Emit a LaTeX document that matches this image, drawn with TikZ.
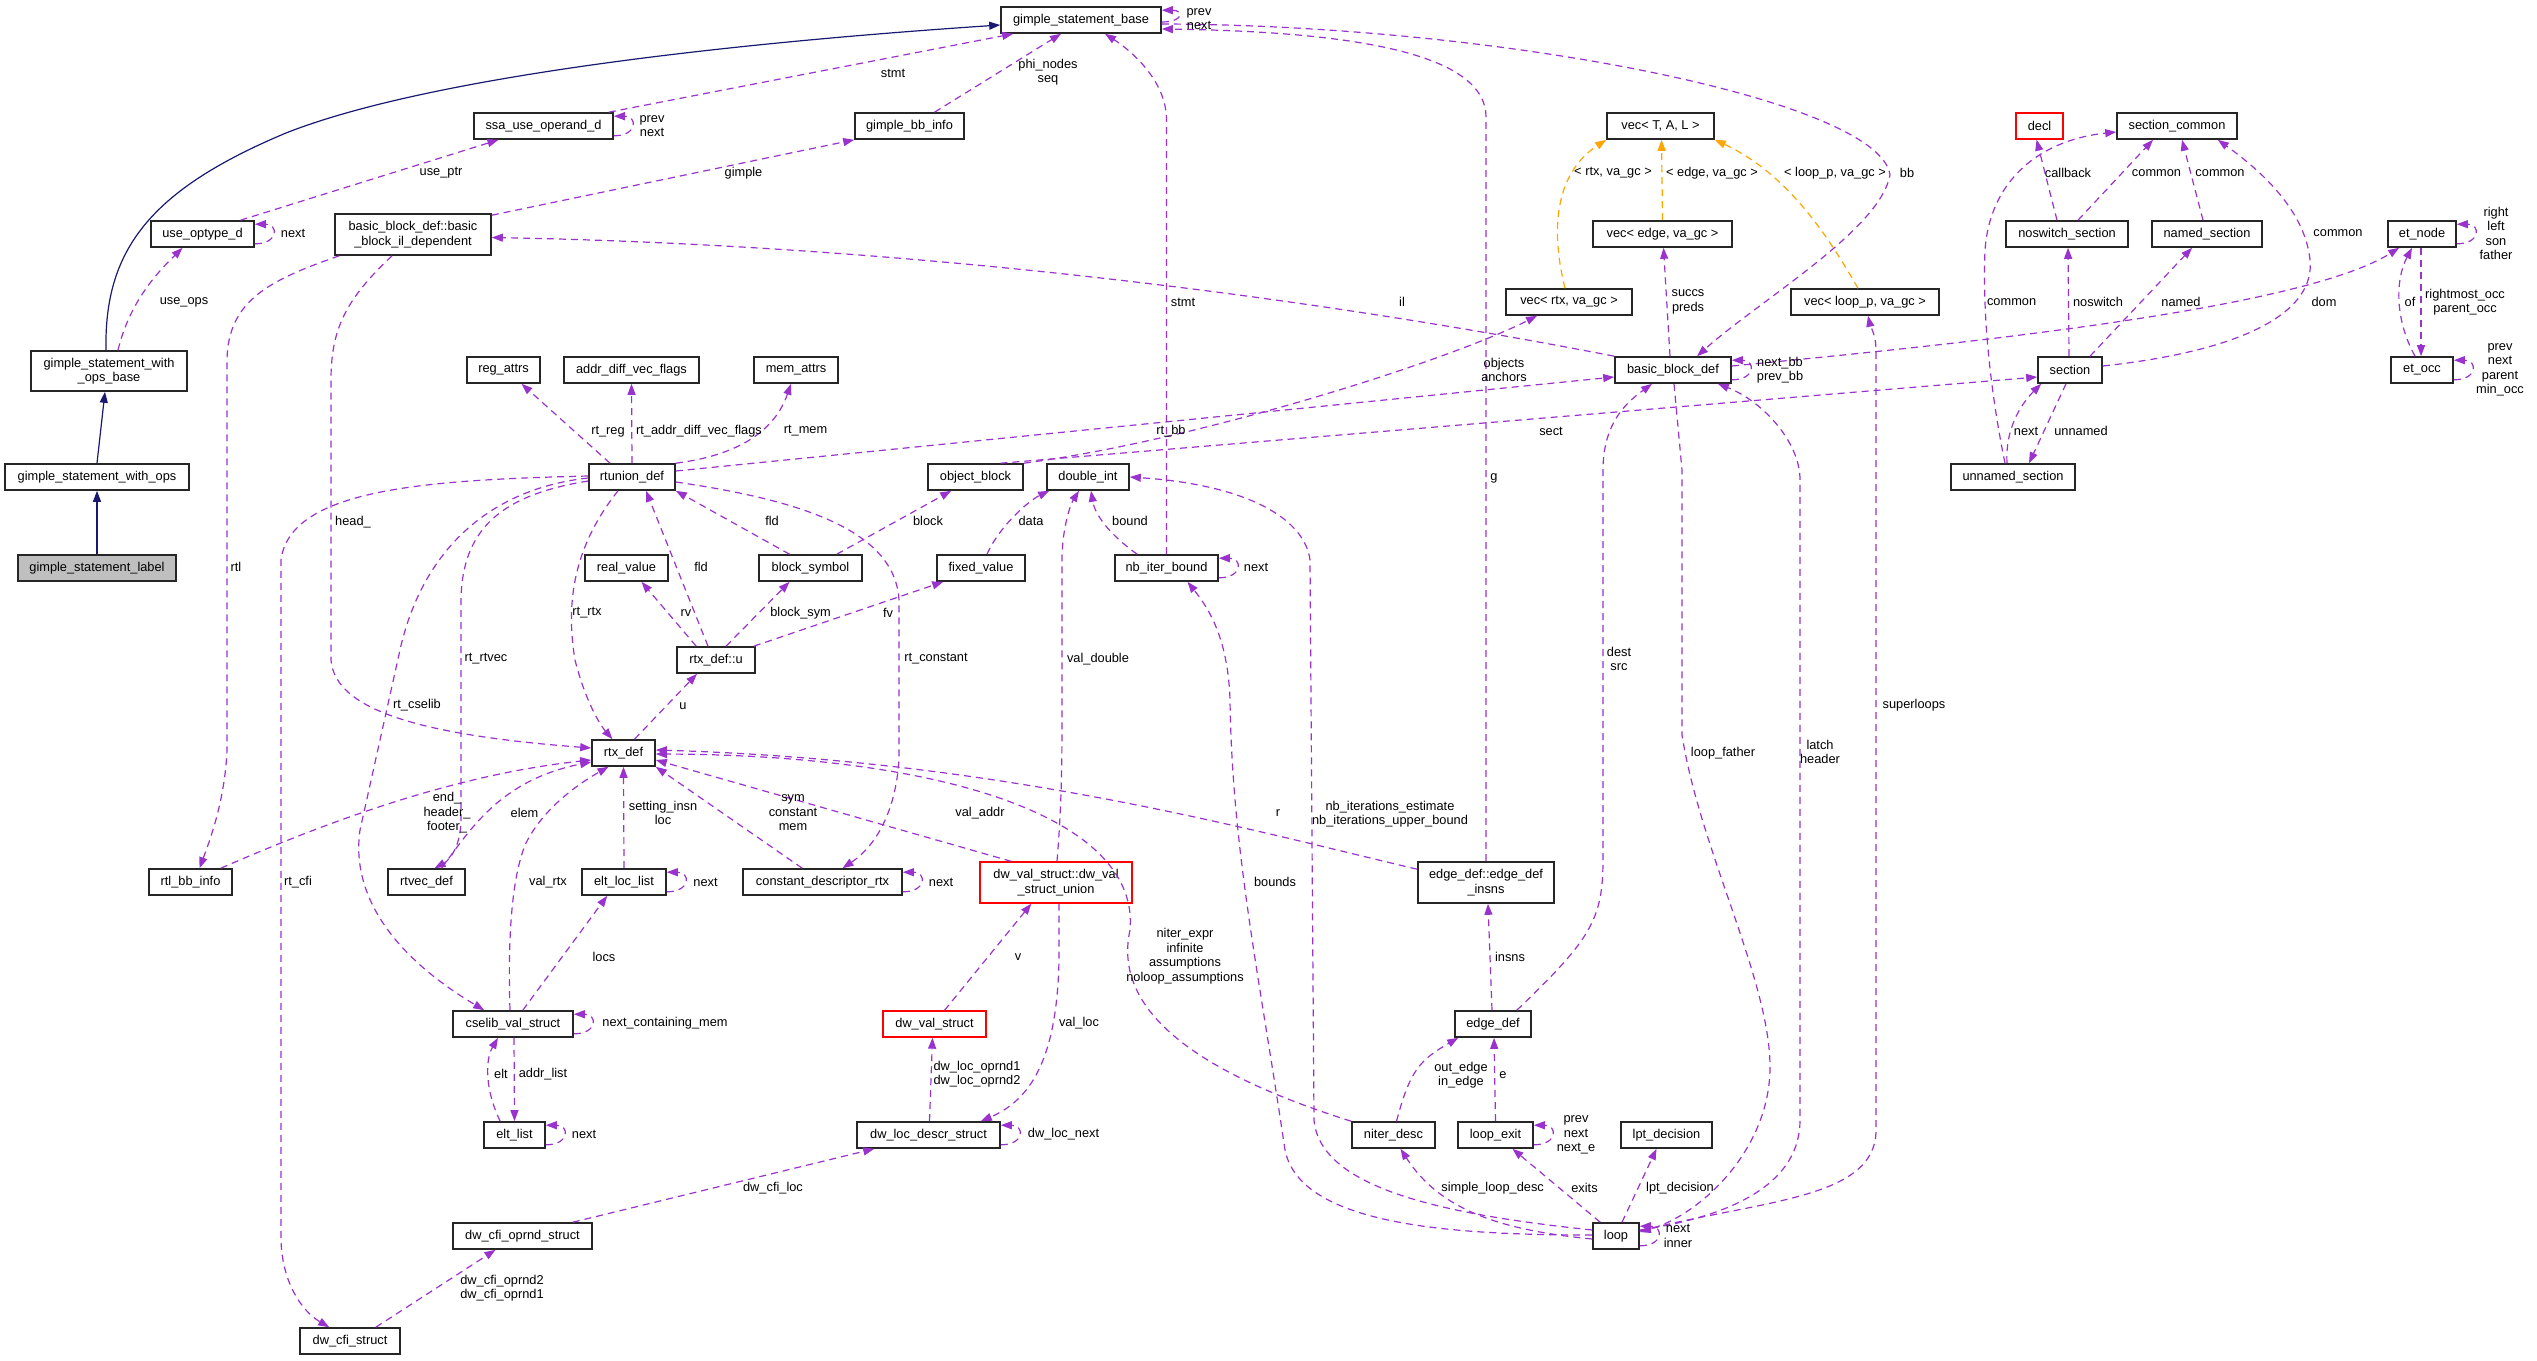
\documentclass[tikz,border=0pt]{standalone}
\usepackage{fontspec}
\setmainfont{Liberation Sans}
\usetikzlibrary{calc,arrows.meta}
\definecolor{purp}{HTML}{9A32CD}
\definecolor{orng}{HTML}{FFA500}
\definecolor{navyb}{HTML}{191970}
\begin{document}
\begin{tikzpicture}[x=1pt,y=-1pt,
  font=\fontsize{12.8}{14.5}\selectfont,
  box/.style={draw=black!85, line width=1.6pt, fill=white, rectangle, inner sep=0pt, minimum height=26pt, align=center},
  box2/.style={box, minimum height=41pt},
  lbl/.style={inner sep=0pt, align=center},
  pe/.style={draw=purp, line width=1.2pt, dash pattern=on 7pt off 5pt, -{Triangle[length=11pt,width=8pt]}},
  oe/.style={draw=orng, line width=1.2pt, dash pattern=on 7pt off 5pt, -{Triangle[length=11pt,width=8pt]}},
  ne/.style={draw=navyb, line width=1.2pt, -{Triangle[length=11pt,width=8pt]}}]
\useasboundingbox (0,0) rectangle (2537,1360);
% ---------------- nodes
\node[box, minimum width=160pt] (gsb) at (1081,20) {gimple\_statement\_base};
\node[box, minimum width=139pt] (ssa) at (543.5,126) {ssa\_use\_operand\_d};
\node[box, minimum width=109pt] (gbi) at (909.5,126) {gimple\_bb\_info};
\node[box, minimum width=107pt] (vecT) at (1660.5,126) {vec< T, A, L >};
\node[box, draw=red, line width=1.3pt, minimum width=47pt] (decl) at (2039.5,126) {decl};
\node[box, minimum width=120pt] (sc) at (2177,126) {section\_common};
\node[box, minimum width=103pt] (uod) at (202.5,234) {use\_optype\_d};
\node[box2, minimum width=156pt] (bbil) at (413,234.5) {basic\_block\_def::basic\\\_block\_il\_dependent};
\node[box, minimum width=139pt] (vece) at (1662.5,234) {vec< edge, va\_gc >};
\node[box, minimum width=122pt] (nss) at (2067,234) {noswitch\_section};
\node[box, minimum width=110pt] (nms) at (2207,234) {named\_section};
\node[box, minimum width=68pt] (etn) at (2422,234) {et\_node};
\node[box, minimum width=126pt] (vecr) at (1569,302) {vec< rtx, va\_gc >};
\node[box, minimum width=148pt] (vecl) at (1865,302) {vec< loop\_p, va\_gc >};
\node[box2, minimum width=156pt, minimum height=40pt] (gswob) at (109,371) {gimple\_statement\_with\\\_ops\_base};
\node[box, minimum width=73pt] (rega) at (503.5,370) {reg\_attrs};
\node[box, minimum width=135pt] (adv) at (631.5,370) {addr\_diff\_vec\_flags};
\node[box, minimum width=84pt] (mema) at (796,370) {mem\_attrs};
\node[box, minimum width=116pt] (bbd) at (1673,370) {basic\_block\_def};
\node[box, minimum width=64pt] (sec) at (2070,370) {section};
\node[box, minimum width=62pt] (eto) at (2422,370) {et\_occ};
\node[box, minimum width=184pt] (gswo) at (97,477) {gimple\_statement\_with\_ops};
\node[box, minimum width=86pt] (rtu) at (632,477) {rtunion\_def};
\node[box, minimum width=95pt] (ob) at (975.5,477) {object\_block};
\node[box, minimum width=82pt] (di) at (1088,477) {double\_int};
\node[box, minimum width=124pt] (uns) at (2013,477) {unnamed\_section};
\node[box, fill=gray!50, minimum width=158pt] (gsl) at (97,568) {gimple\_statement\_label};
\node[box, minimum width=83pt] (rv) at (626.5,568) {real\_value};
\node[box, minimum width=103pt] (bs) at (810.5,568) {block\_symbol};
\node[box, minimum width=88pt] (fv) at (981,568) {fixed\_value};
\node[box, minimum width=103pt] (nib) at (1166.5,568) {nb\_iter\_bound};
\node[box, minimum width=78pt] (rdu) at (716,660) {rtx\_def::u};
\node[box, minimum width=63pt] (rtx) at (623.5,753) {rtx\_def};
\node[box, minimum width=83pt] (rbi) at (190.5,882) {rtl\_bb\_info};
\node[box, minimum width=77pt] (rvd) at (426.5,882) {rtvec\_def};
\node[box, minimum width=84pt] (ell) at (624,882) {elt\_loc\_list};
\node[box, minimum width=159pt] (cdr) at (822.5,882) {constant\_descriptor\_rtx};
\node[box2, draw=red, line width=1.3pt, minimum width=152pt] (dvu) at (1056,882.5) {dw\_val\_struct::dw\_val\\\_struct\_union};
\node[box2, minimum width=136pt] (edi) at (1486,882.5) {edge\_def::edge\_def\\\_insns};
\node[box, minimum width=120pt] (cvs) at (513,1024) {cselib\_val\_struct};
\node[box, draw=red, line width=1.3pt, minimum width=103pt] (dvs) at (934.5,1024) {dw\_val\_struct};
\node[box, minimum width=76pt] (ed) at (1493,1024) {edge\_def};
\node[box, minimum width=61pt] (el) at (514.5,1135) {elt\_list};
\node[box, minimum width=143pt] (dlds) at (928.5,1135) {dw\_loc\_descr\_struct};
\node[box, minimum width=83pt] (nd) at (1393.5,1135) {niter\_desc};
\node[box, minimum width=75pt] (le) at (1495.5,1135) {loop\_exit};
\node[box, minimum width=91pt] (lpt) at (1666.5,1135) {lpt\_decision};
\node[box, minimum width=139pt] (dcos) at (522.5,1236) {dw\_cfi\_oprnd\_struct};
\node[box, minimum width=46pt] (loop) at (1616,1236) {loop};
\node[box, minimum width=100pt] (dcs) at (350,1341) {dw\_cfi\_struct};
% ---------------- inheritance
\draw[ne] ($(gswob.north)+(-3,0)$) .. controls (104,250) and (150,190) .. (286,133) .. controls (420,80) and (700,45) .. ($(gsb.west)+(0,5)$);
\draw[ne] (gswo.north) -- ($(gswob.south)+(-4,0)$);
\draw[ne] (gsl.north) -- (gswo.south);
% ---------------- top area
\draw[pe] ($(ssa.north east)+(-5,0)$) -- ($(gsb.south west)+(13,0)$);
\draw[pe] ([yshift=4pt]ssa.south east) .. controls +(24,0) and +(24,0) .. ([yshift=-4pt]ssa.north east);
\draw[pe] ($(uod.north)+(38,0)$) -- ($(ssa.south)+(-45,0)$);
\draw[pe] ([yshift=4pt]uod.south east) .. controls +(24,0) and +(24,0) .. ([yshift=-4pt]uod.north east);
\draw[pe] ($(gswob.north)+(9,0)$) .. controls (130,300) and (160,270) .. ($(uod.south)+(-20,0)$);
\draw[pe] ($(bbil.north east)+(0,2)$) -- (gbi.south west);
\draw[pe] ($(gbi.north)+(25,0)$) -- ($(gsb.south)+(-20,0)$);
\draw[pe] ($(gsb.east)+(0,2)$) .. controls +(22,0) and +(22,0) .. ($(gsb.north east)+(0,4)$);
\draw[pe] ($(gsb.east)+(0,4)$) .. controls (1500,25) and (1880,100) .. (1890,175) .. controls (1880,230) and (1760,300) .. ($(bbd.north)+(24,0)$);
\draw[pe] (edi.north) -- (1486,117) .. controls (1486,60) and (1380,32) .. ($(gsb.east)+(0,9)$);
\draw[pe] (nib.north) -- (1166.5,120) .. controls (1166.5,80) and (1130,50) .. ($(gsb.south)+(24,0)$);
% ---------------- basic block / vec
\draw[pe] (bbd.north west) .. controls (1300,295) and (900,245) .. ($(bbil.east)+(0,3)$);
\draw[pe] ($(bbd.north)+(-3,0)$) -- ($(vece.south)+(1,0)$);
\draw[oe] (vece.north) -- ($(vecT.south)+(1,0)$);
\draw[oe] ($(vecr.north)+(-4,0)$) .. controls (1548,220) and (1560,170) .. (vecT.south west);
\draw[oe] ($(vecl.north)+(-7,0)$) .. controls (1830,240) and (1790,175) .. (vecT.south east);
\draw[pe] (ob.north east) .. controls (1200,440) and (1450,360) .. ($(vecr.south)+(-32,0)$);
\draw[pe] ($(ob.north)+(25,0)$) -- ($(sec.west)+(0,7)$);
\draw[pe] ($(rtu.east)+(0,-6)$) -- ($(bbd.west)+(0,7)$);
\draw[pe] ($(bbd.east)+(0,-4)$) .. controls (1950,345) and (2300,310) .. ($(etn.south west)+(12,0)$);
\draw[pe] ([yshift=4pt]bbd.south east) .. controls +(24,0) and +(24,0) .. ([yshift=-4pt]bbd.north east);
\draw[pe] ($(ed.north east)+(-15,0)$) .. controls (1590,940) and (1603,920) .. (1603,860) -- (1603,470) .. controls (1603,420) and (1630,400) .. ($(bbd.south)+(-21,0)$);
\draw[pe] ($(bbd.south)+(1,0)$) -- (1682,470) -- (1682,735) .. controls (1700,850) and (1770,980) .. (1770,1067) .. controls (1770,1150) and (1700,1215) .. ($(loop.east)+(0,-4)$);
\draw[pe] ($(loop.east)+(0,-6)$) .. controls (1740,1215) and (1800,1180) .. (1800,1120) -- (1800,480) .. controls (1800,440) and (1760,400) .. ($(bbd.south east)+(-14,0)$);
\draw[pe] ($(loop.east)+(0,-5)$) .. controls (1760,1200) and (1876,1200) .. (1876,1130) -- (1876,350) .. controls (1876,335) and (1870,325) .. ($(vecl.south)+(3,0)$);
% ---------------- loop area
\draw[pe] ($(loop.west)+(0,-1)$) .. controls (1450,1235) and (1300,1225) .. (1285,1150) .. controls (1260,980) and (1232,850) .. (1230,700) .. controls (1228,640) and (1210,610) .. ($(nib.south)+(21,0)$);
\draw[pe] ($(loop.west)+(0,-6)$) .. controls (1450,1215) and (1320,1190) .. (1314,1120) -- (1310,560) .. controls (1305,520) and (1250,485) .. (di.east);
\draw[pe] ($(loop.west)+(0,3)$) .. controls (1500,1230) and (1440,1210) .. ($(nd.south)+(7,0)$);
\draw[pe] ($(loop.north west)+(8,0)$) -- ($(le.south)+(17,0)$);
\draw[pe] ($(loop.north)+(6,0)$) -- ($(lpt.south)+(-10,0)$);
\draw[pe] ([yshift=4pt]loop.south east) .. controls +(24,0) and +(24,0) .. ([yshift=-4pt]loop.north east);
\draw[pe] (le.north) -- ($(ed.south)+(1,0)$);
\draw[pe] ([yshift=4pt]le.south east) .. controls +(24,0) and +(24,0) .. ([yshift=-4pt]le.north east);
\draw[pe] ($(ed.north)+(-1,0)$) -- ($(edi.south)+(2,0)$);
\draw[pe] ($(nd.north)+(3,0)$) .. controls (1410,1070) and (1420,1060) .. ($(ed.south west)+(4,0)$);
\draw[pe] (nd.north west) .. controls (1220,1080) and (1110,1020) .. (1130,930) .. controls (1140,820) and (950,755) .. ($(rtx.east)+(0,1)$);
\draw[pe] ($(edi.north west)+(0,8)$) .. controls (1250,830) and (1000,760) .. ($(rtx.east)+(0,-3)$);
% ---------------- dwarf
\draw[pe] ($(dvu.north west)+(32,0)$) -- ($(rtx.east)+(0,7)$);
\draw[pe] ($(dvu.north)+(1,0)$) .. controls (1062,800) and (1062,760) .. (1062,700) -- (1062,560) .. controls (1062,530) and (1070,505) .. ($(di.south)+(-9,0)$);
\draw[pe] ($(dvu.south)+(3,0)$) -- (1059,960) .. controls (1057,1060) and (1030,1100) .. ($(dlds.north east)+(-20,0)$);
\draw[pe] ($(dvs.north)+(10,0)$) -- ($(dvu.south west)+(52,0)$);
\draw[pe] ($(dlds.north)+(1,0)$) -- ($(dvs.south)+(-2,0)$);
\draw[pe] ([yshift=4pt]dlds.south east) .. controls +(24,0) and +(24,0) .. ([yshift=-4pt]dlds.north east);
\draw[pe] ($(dcos.north east)+(-20,0)$) -- ($(dlds.south west)+(18,0)$);
\draw[pe] ($(dcs.north east)+(-25,0)$) -- ($(dcos.south)+(-27,0)$);
% ---------------- rtunion
\draw[pe] ($(rtu.west)+(0,-1)$) .. controls (420,480) and (290,490) .. (281,560) -- (281,1240) .. controls (282,1280) and (300,1310) .. ($(dcs.north west)+(30,0)$);
\draw[pe] ($(rtu.west)+(0,1)$) .. controls (480,490) and (420,560) .. (400,650) -- (360,830) .. controls (350,900) and (400,960) .. ($(cvs.north west)+(32,0)$);
\draw[pe] ($(rtu.west)+(0,4)$) .. controls (500,495) and (462,530) .. (461,600) -- (461,820) .. controls (461,845) and (450,860) .. ($(rvd.north)+(8,0)$);
\draw[pe] ($(rtu.south)+(-14,0)$) .. controls (575,545) and (565,600) .. (575,660) .. controls (585,700) and (600,725) .. ($(rtx.north)+(-11,0)$);
\draw[pe] ($(rtu.north)+(-22,0)$) -- ($(rega.south)+(18,0)$);
\draw[pe] (rtu.north) -- (adv.south);
\draw[pe] (rtu.north east) .. controls (740,455) and (775,430) .. ($(mema.south)+(-5,0)$);
\draw[pe] ($(rtu.east)+(0,5)$) .. controls (800,500) and (895,530) .. (899,600) -- (899,760) .. controls (895,820) and (870,850) .. ($(cdr.north)+(20,0)$);
\draw[pe] ($(rdu.north)+(-8,0)$) -- ($(rtu.south)+(14,0)$);
\draw[pe] ($(bs.north)+(-21,0)$) -- (rtu.south east);
\draw[pe] ($(bs.north east)+(-26,0)$) -- ($(ob.south west)+(24,0)$);
\draw[pe] ($(rdu.north west)+(20,0)$) -- ($(rv.south)+(15,0)$);
\draw[pe] ($(rdu.north)+(10,0)$) -- ($(bs.south)+(-21,0)$);
\draw[pe] ($(rdu.north east)+(-2,0)$) -- ($(fv.south west)+(7,0)$);
\draw[pe] ($(fv.north)+(6,0)$) .. controls (1000,525) and (1030,500) .. ($(di.south west)+(3,0)$);
\draw[pe] ($(nib.north west)+(23,0)$) .. controls (1110,535) and (1095,515) .. ($(di.south)+(3,0)$);
\draw[pe] ([yshift=4pt]nib.south east) .. controls +(24,0) and +(24,0) .. ([yshift=-4pt]nib.north east);
\draw[pe] ($(rtx.north)+(11,0)$) -- ($(rdu.south)+(-19,0)$);
% ---------------- rtx_def incoming
\draw[pe] ($(bbil.south)+(-21,0)$) .. controls (345,300) and (331,330) .. (331,380) -- (331,660) .. controls (335,710) and (420,735) .. ($(rtx.west)+(0,-5)$);
\draw[pe] ($(bbil.south west)+(5,0)$) .. controls (270,280) and (228,300) .. (227,360) -- (227,750) .. controls (225,800) and (210,840) .. ($(rbi.north)+(9,0)$);
\draw[pe] ($(rbi.north east)+(-12,0)$) .. controls (320,825) and (450,775) .. ($(rtx.west)+(0,7)$);
\draw[pe] ($(rvd.north)+(15,0)$) .. controls (470,830) and (500,780) .. ($(rtx.west)+(0,9)$);
\draw[pe] ($(cvs.north)+(-3,0)$) .. controls (508,950) and (510,880) .. (526,843) .. controls (545,805) and (585,780) .. ($(rtx.south)+(-15,0)$);
\draw[pe] (ell.north) -- (rtx.south);
\draw[pe] ([yshift=4pt]ell.south east) .. controls +(24,0) and +(24,0) .. ([yshift=-4pt]ell.north east);
\draw[pe] ($(cvs.north east)+(-51,0)$) -- ($(ell.south west)+(26,0)$);
\draw[pe] ([yshift=4pt]cvs.south east) .. controls +(24,0) and +(24,0) .. ([yshift=-4pt]cvs.north east);
\draw[pe] ($(cvs.south)+(1,0)$) -- (el.north);
\draw[pe] ($(el.north west)+(17,0)$) .. controls (485,1090) and (485,1060) .. ($(cvs.south)+(-15,0)$);
\draw[pe] ([yshift=4pt]el.south east) .. controls +(24,0) and +(24,0) .. ([yshift=-4pt]el.north east);
\draw[pe] ($(cdr.north west)+(60,0)$) -- (rtx.south east);
\draw[pe] ([yshift=4pt]cdr.south east) .. controls +(24,0) and +(24,0) .. ([yshift=-4pt]cdr.north east);
% ---------------- sections
\draw[pe] ($(nss.north)+(-10,0)$) -- ($(decl.south)+(-3,0)$);
\draw[pe] ($(nss.north)+(11,0)$) -- ($(sc.south)+(-24,0)$);
\draw[pe] ($(nms.north)+(-4,0)$) -- ($(sc.south)+(5,0)$);
\draw[pe] ($(uns.north)+(-8,0)$) .. controls (1992,400) and (1982,320) .. (1985,250) .. controls (1990,180) and (2040,140) .. ($(sc.west)+(0,6)$);
\draw[pe] ($(sec.east)+(0,-4)$) .. controls (2250,350) and (2315,310) .. (2310,260) .. controls (2305,210) and (2260,170) .. ($(sc.south east)+(-20,0)$);
\draw[pe] ($(sec.north)+(-1,0)$) -- ($(nss.south)+(1,0)$);
\draw[pe] ($(sec.north)+(20,0)$) -- ($(nms.south)+(-15,0)$);
\draw[pe] ($(sec.south)+(-4,0)$) -- ($(uns.north)+(16,0)$);
\draw[pe] ($(uns.north)+(-6,0)$) .. controls (2005,430) and (2020,405) .. ($(sec.south west)+(4,0)$);
\draw[pe] ($(eto.north)+(-7,0)$) .. controls (2395,320) and (2395,280) .. ($(etn.south)+(-10,0)$);
\draw[pe] ($(etn.south)+(-1,0)$) -- ($(eto.north)+(-1,0)$);
\draw[pe] ([yshift=4pt]etn.south east) .. controls +(24,0) and +(24,0) .. ([yshift=-4pt]etn.north east);
\draw[pe] ([yshift=4pt]eto.south east) .. controls +(24,0) and +(24,0) .. ([yshift=-4pt]eto.north east);
% ---------------- labels
\node[lbl] (l1) at (893,73) {stmt};
\node[lbl] (l2) at (652,126) {prev\\next};
\node[lbl] (l3) at (441,173) {use\_ptr};
\node[lbl] (l4) at (293,233) {next};
\node[lbl] (l5) at (184,302) {use\_ops};
\node[lbl] (l6) at (743.5,173) {gimple};
\node[lbl] (l7) at (1048,72) {phi\_nodes\\seq};
\node[lbl] (l8) at (1199,19) {prev\\next};
\node[lbl] (l9) at (1183,302) {stmt};
\node[lbl] (l10) at (1402,302) {il};
\node[lbl] (l11) at (1613,173) {< rtx, va\_gc >};
\node[lbl] (l12) at (1712,173) {< edge, va\_gc >};
\node[lbl] (l13) at (1835,173) {< loop\_p, va\_gc >};
\node[lbl] (l14) at (1907,173) {bb};
\node[lbl] (l15) at (1688,302) {succs\\preds};
\node[lbl] (l16) at (1504,370) {objects\\anchors};
\node[lbl] (l17) at (1780,370) {next\_bb\\prev\_bb};
\node[lbl] (l18) at (1551,431) {sect};
\node[lbl] (l19) at (2068,173) {callback};
\node[lbl] (l20) at (2156.5,173) {common};
\node[lbl] (l21) at (2220,173) {common};
\node[lbl] (l22) at (2338,233) {common};
\node[lbl] (l23) at (2496,233.5) {right\\left\\son\\father};
\node[lbl] (l24) at (2011.6,302) {common};
\node[lbl] (l25) at (2098,302) {noswitch};
\node[lbl] (l26) at (2181,302) {named};
\node[lbl] (l27) at (2324,302) {dom};
\node[lbl] (l28) at (2410,302) {of};
\node[lbl] (l29) at (2465,302) {rightmost\_occ\\parent\_occ};
\node[lbl] (l30) at (2500,370) {prev\\next\\parent\\min\_occ};
\node[lbl] (l31) at (2026,431) {next};
\node[lbl] (l32) at (2081,431) {unnamed};
\node[lbl] (l33) at (608,432) {rt\_reg};
\node[lbl] (l34) at (699,431) {rt\_addr\_diff\_vec\_flags};
\node[lbl] (l35) at (805.5,431) {rt\_mem};
\node[lbl] (l36) at (1171,431) {rt\_bb};
\node[lbl] (l37) at (353,522) {head\_};
\node[lbl] (l38) at (236,567) {rtl};
\node[lbl] (l39) at (772,521) {fld};
\node[lbl] (l40) at (928,521) {block};
\node[lbl] (l41) at (1031,521) {data};
\node[lbl] (l42) at (1130,521) {bound};
\node[lbl] (l43) at (1494,478) {g};
\node[lbl] (l44) at (1256,567) {next};
\node[lbl] (l45) at (701,567) {fld};
\node[lbl] (l46) at (587,613) {rt\_rtx};
\node[lbl] (l47) at (686,613) {rv};
\node[lbl] (l48) at (800.6,613) {block\_sym};
\node[lbl] (l49) at (888,613) {fv};
\node[lbl] (l50) at (486,659) {rt\_rtvec};
\node[lbl] (l51) at (936,659) {rt\_constant};
\node[lbl] (l52) at (1098,659) {val\_double};
\node[lbl] (l53) at (1619,659) {dest\\src};
\node[lbl] (l54) at (1914,705) {superloops};
\node[lbl] (l55) at (417,705) {rt\_cselib};
\node[lbl] (l56) at (683,706) {u};
\node[lbl] (l57) at (1723,753) {loop\_father};
\node[lbl] (l58) at (1820,752) {latch\\header};
\node[lbl] (l59) at (447,813) {end\_\\header\_\\footer\_};
\node[lbl] (l60) at (524.5,813) {elem};
\node[lbl] (l61) at (663,813) {setting\_insn\\loc};
\node[lbl] (l62) at (793,813) {sym\\constant\\mem};
\node[lbl] (l63) at (980,813) {val\_addr};
\node[lbl] (l64) at (1278,813) {r};
\node[lbl] (l65) at (1390,814) {nb\_iterations\_estimate\\nb\_iterations\_upper\_bound};
\node[lbl] (l66) at (298,882) {rt\_cfi};
\node[lbl] (l67) at (548,882) {val\_rtx};
\node[lbl] (l68) at (705.5,882) {next};
\node[lbl] (l69) at (941,882) {next};
\node[lbl] (l70) at (1275,882) {bounds};
\node[lbl] (l71) at (604,957) {locs};
\node[lbl] (l72) at (1018,957) {v};
\node[lbl] (l73) at (1510,957) {insns};
\node[lbl] (l74) at (1185,956) {niter\_expr\\infinite\\assumptions\\noloop\_assumptions};
\node[lbl] (l75) at (665,1023) {next\_containing\_mem};
\node[lbl] (l76) at (1079,1023) {val\_loc};
\node[lbl] (l77) at (501,1074) {elt};
\node[lbl] (l78) at (543,1074) {addr\_list};
\node[lbl] (l79) at (977,1074) {dw\_loc\_oprnd1\\dw\_loc\_oprnd2};
\node[lbl] (l80) at (1461,1075) {out\_edge\\in\_edge};
\node[lbl] (l81) at (1503,1075) {e};
\node[lbl] (l82) at (584,1134) {next};
\node[lbl] (l83) at (1063.5,1134) {dw\_loc\_next};
\node[lbl] (l84) at (1576,1135) {prev\\next\\next\_e};
\node[lbl] (l85) at (773,1188) {dw\_cfi\_loc};
\node[lbl] (l86) at (1492.6,1188) {simple\_loop\_desc};
\node[lbl] (l87) at (1584.5,1188) {exits};
\node[lbl] (l88) at (1680,1188) {lpt\_decision};
\node[lbl] (l89) at (1678,1236) {next\\inner};
\node[lbl] (l90) at (502,1288) {dw\_cfi\_oprnd2\\dw\_cfi\_oprnd1};
\end{tikzpicture}
\end{document}
